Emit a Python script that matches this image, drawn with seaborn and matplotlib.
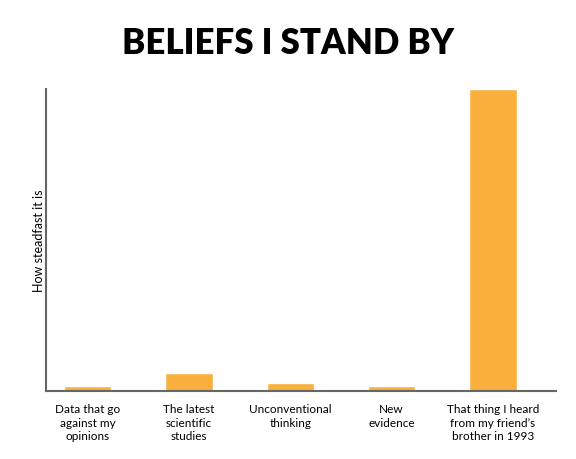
import matplotlib
matplotlib.use("Agg")
import matplotlib.pyplot as plt
import pandas as pd
import seaborn as sns

categories = [
    "Data that go\nagainst my\nopinions",
    "The latest\nscientific\nstudies",
    "Unconventional\nthinking",
    "New\nevidence",
    "That thing I heard\nfrom my friend\u2019s\nbrother in 1993",
]
steadfastness = [1.5, 6.0, 2.6, 1.5, 100.0]

sns.set_theme(style="white")
plt.rcParams["font.family"] = ["Lato", "DejaVu Sans"]

df = pd.DataFrame({"belief": categories, "value": steadfastness})

fig = plt.figure(figsize=(5.76, 4.6), dpi=100)
ax = fig.add_axes([0.080, 0.148, 0.885, 0.656])
sns.barplot(data=df, x="belief", y="value", color="#F9B03D", saturation=1,
            width=0.47, ax=ax)

ax.set_xlim(-0.41, 4.62)
ax.set_ylim(0, 100)
ax.set_yticks([])
ax.set_xlabel("")
ax.set_ylabel("How steadfast it is", fontsize=9, color="black", labelpad=1)
ax.tick_params(axis="x", length=0, labelsize=8.5, pad=9, colors="black")
for lbl in ax.get_xticklabels():
    lbl.set_linespacing(1.25)
sns.despine(ax=ax)
for side in ["left", "bottom"]:
    ax.spines[side].set_color("#666666")
    ax.spines[side].set_linewidth(1.5)

fig.text(0.5, 0.905, "BELIEFS I STAND BY", ha="center", va="center",
         fontsize=25, fontweight="heavy", color="black")

fig.savefig("out.png", dpi=100)
